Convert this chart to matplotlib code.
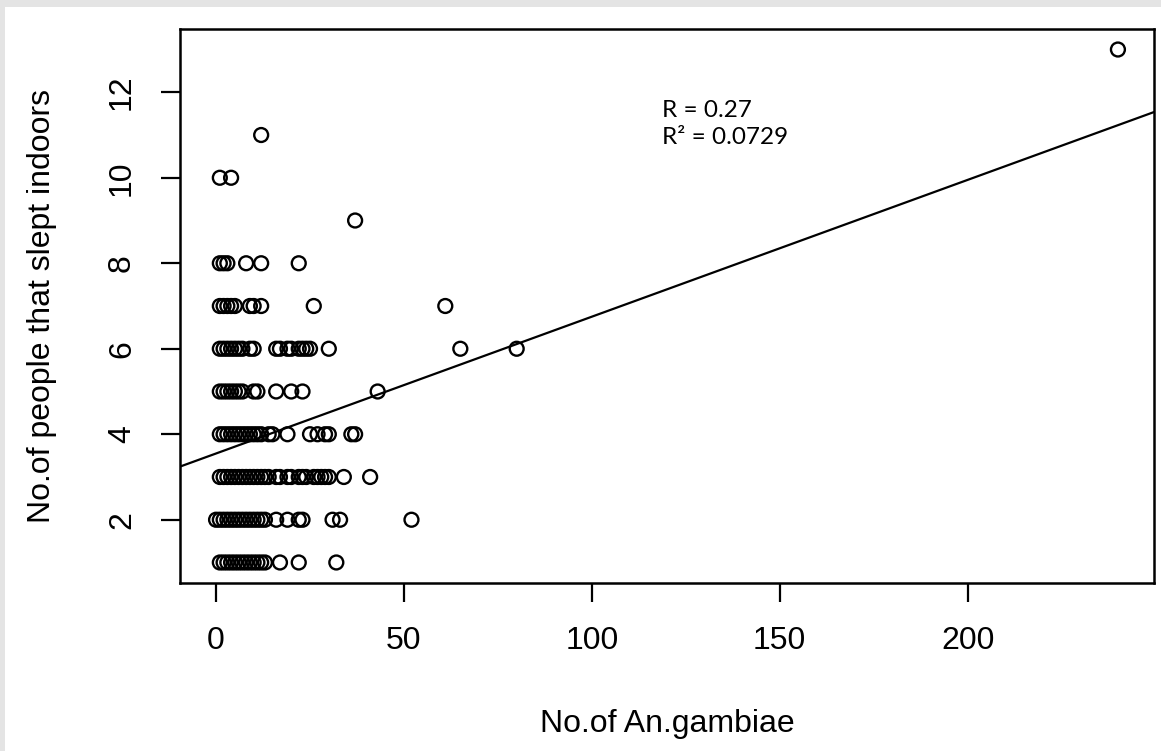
import numpy as np
import matplotlib.pyplot as plt
from matplotlib.patches import Rectangle

# counts of An.gambiae per house, grouped by no. of people that slept indoors
people_1 = [1, 2, 3, 4, 5, 6, 7, 8, 9, 10, 11, 12, 13, 17, 22, 32]
people_2 = [0, 1, 2, 3, 4, 5, 6, 7, 8, 9, 10, 11, 12, 13, 16, 19, 22, 23, 31, 33, 52]
people_3 = [1, 2, 3, 4, 5, 6, 7, 8, 9, 10, 11, 12, 13, 14, 16, 17, 19, 20,
            22, 23, 24, 26, 27, 28, 29, 30, 34, 41]
people_4 = [1, 2, 3, 4, 5, 6, 7, 8, 9, 10, 11, 12, 14, 15, 19, 25, 27, 29, 30,
            36, 37]
people_5 = [1, 2, 3, 4, 5, 6, 7, 10, 11, 16, 20, 23, 43]
people_6 = [1, 2, 3, 4, 5, 6, 7, 9, 10, 16, 17, 19, 20, 22, 23, 24, 25, 30, 65, 80]
people_7 = [1, 2, 3, 4, 5, 9, 10, 12, 26, 61]
people_8 = [1, 2, 3, 8, 12, 22]
people_9 = [37]
people_10 = [1, 4]
people_11 = [12]
people_13 = [240]

groups = {1: people_1, 2: people_2, 3: people_3, 4: people_4, 5: people_5,
          6: people_6, 7: people_7, 8: people_8, 9: people_9, 10: people_10,
          11: people_11, 13: people_13}

x = np.concatenate([np.array(v, float) for v in groups.values()])
y = np.concatenate([np.full(len(v), k, float) for k, v in groups.items()])

# fitted line
intercept = 3.55
slope = 0.032
r_text = "R = 0.27"
r2_text = "R\u00b2 = 0.0729"

plt.rcParams['font.family'] = ['Liberation Sans', 'DejaVu Sans']

fig = plt.figure(figsize=(11.61, 7.51), dpi=100)
fig.patches.append(Rectangle((0, 1 - 7 / 751), 1, 7 / 751, transform=fig.transFigure,
                             facecolor='#e4e4e4', edgecolor='none'))
fig.patches.append(Rectangle((0, 0), 5 / 1161, 1, transform=fig.transFigure,
                             facecolor='#e4e4e4', edgecolor='none'))

ax = fig.add_axes([180 / 1161, 168 / 751, 974 / 1161, 554 / 751])
ax.scatter(x, y, s=100, facecolors='none', edgecolors='black', linewidths=1.7, zorder=3)

xl = (-9.6, 249.6)
ax.plot(xl, [intercept + slope * xl[0], intercept + slope * xl[1]], color='black', lw=1.6)
ax.set_xlim(xl)
ax.set_ylim(0.52, 13.48)

ax.set_xticks([0, 50, 100, 150, 200])
ax.set_yticks([2, 4, 6, 8, 10, 12])
ax.tick_params(axis='both', length=14, width=1.6, pad=17, labelsize=23)
plt.setp(ax.get_yticklabels(), rotation=90, va='center')
for s in ax.spines.values():
    s.set_linewidth(1.8)

ax.set_xlabel("No.of An.gambiae", fontsize=23, labelpad=38)
ax.set_ylabel("No.of people that slept indoors", fontsize=23, labelpad=36)

ax.text(118.6, 11.42, r_text, fontsize=17.5, family=['Lato', 'DejaVu Sans'], va='baseline')
ax.text(118.6, 10.80, r2_text, fontsize=17.5, family=['Lato', 'DejaVu Sans'], va='baseline')

fig.savefig('out.png', dpi=100)
